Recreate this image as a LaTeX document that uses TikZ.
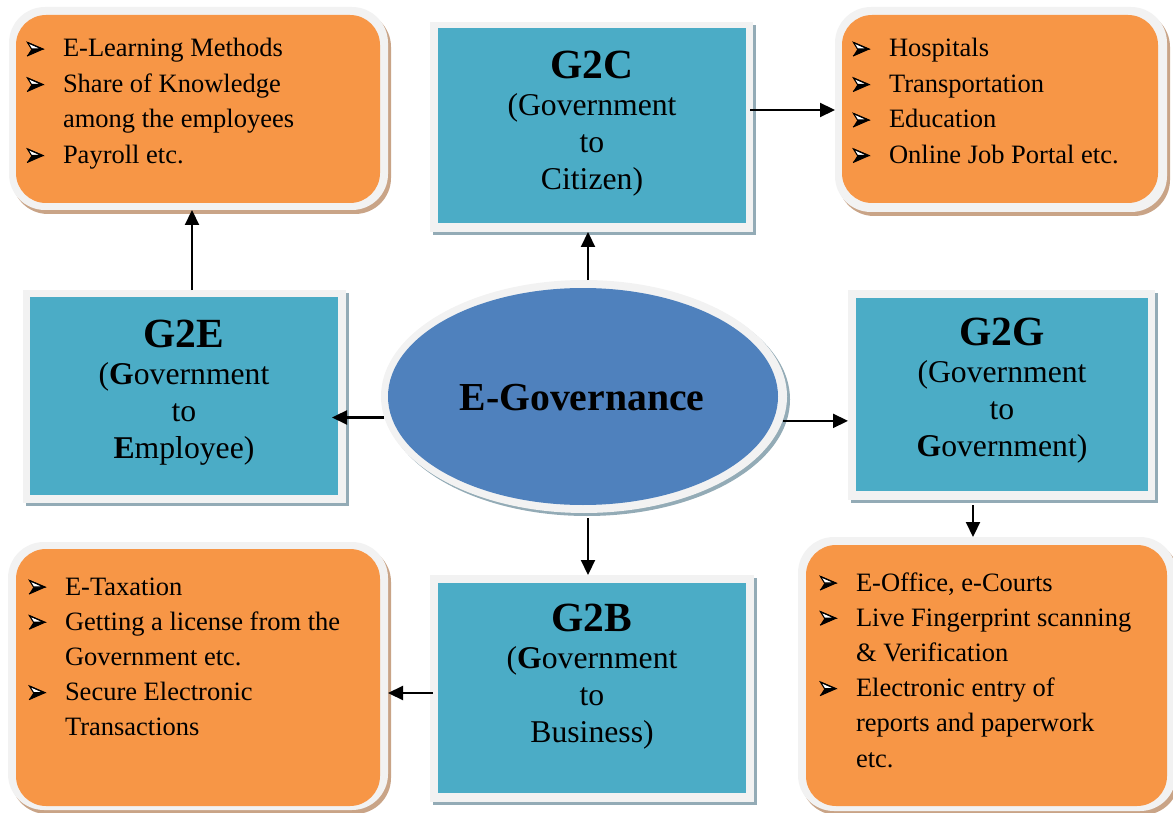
\documentclass[tikz,border=0pt]{standalone}
\usepackage{fontspec}
\setmainfont{Liberation Serif}
\usetikzlibrary{arrows.meta,shapes.geometric,calc,shadows}

\definecolor{orangefill}{HTML}{F79646}
\definecolor{cyanfill}{HTML}{4BACC6}
\definecolor{bluefill}{HTML}{4F81BD}
\definecolor{framefill}{HTML}{F2F2F2}
\definecolor{orangeshadow}{HTML}{C9A487}
\definecolor{cyanshadow}{HTML}{93ABB6}

\newcommand\headfont{\fontsize{41.5}{37}\selectfont\bfseries}

\tikzset{
  cyanframe/.style={rectangle, fill=framefill, inner sep=0, outer sep=0,
    drop shadow={shadow xshift=3pt, shadow yshift=-3pt, fill=cyanshadow, opacity=1}},
  cyanbox/.style={rectangle, fill=cyanfill, inner sep=0, outer sep=0},
  orangeframe/.style={rectangle, rounded corners=36pt, fill=framefill, inner sep=0, outer sep=0,
    drop shadow={shadow xshift=3pt, shadow yshift=-4pt, fill=orangeshadow, opacity=1}},
  orangebox/.style={rectangle, rounded corners=30pt, fill=orangefill, inner sep=0, outer sep=0},
  boxtext/.style={align=center, inner sep=0, font=\fontsize{31.7}{37}\selectfont},
  listtext/.style={anchor=base west, inner sep=0, outer sep=0},
  arr/.style={draw=black, line width=2.2pt, -{Triangle[length=15pt,width=14pt]}},
  % three-D arrowhead bullet sitting on the baseline: light upper facet, dark lower facet
  bullet/.pic={
    \fill[black] (0,-1) -- (16,-8) -- (4.5,-8) -- cycle;
    \filldraw[fill=white, draw=black, line width=1.1pt, line join=miter]
      (0.5,-14.5) -- (15,-8) -- (4.5,-8) -- cycle;
    \draw[black, line width=1.1pt, line join=miter] (0,-1) -- (16,-8) -- (0.5,-14.5);
  },
}

\begin{document}
\begin{tikzpicture}[x=1pt, y=-1pt]
\useasboundingbox (0,0) rectangle (1173,813);

% ---- bulleted panels ----
\node[orangeframe, minimum width=379, minimum height=203] (tlF) at (198.5,108.5) {};
\node[orangebox, minimum width=364, minimum height=188] (tlI) at (198,109) {};
\node[orangeframe, minimum width=332, minimum height=205] (trF) at (1001,109.5) {};
\node[orangebox, minimum width=316, minimum height=188] (trI) at (1000,109) {};
\node[orangeframe, minimum width=380, minimum height=268] (blF) at (198,676) {};
\node[orangebox, minimum width=364, minimum height=257] (blI) at (198,677.5) {};
\node[orangeframe, minimum width=378, minimum height=274] (brF) at (987,674) {};
\node[orangebox, minimum width=361, minimum height=261] (brI) at (986.5,675.5) {};

% ---- category boxes ----
\node[cyanframe, minimum width=323, minimum height=210] (g2cF) at (591.5,127) {};
\node[cyanbox, minimum width=308, minimum height=195] (g2cI) at (592,125.5) {};
\node[cyanframe, minimum width=323, minimum height=213] (g2eF) at (184.5,396.5) {};
\node[cyanbox, minimum width=308, minimum height=198] (g2eI) at (184,396) {};
\node[cyanframe, minimum width=307, minimum height=210] (g2gF) at (1001.5,395) {};
\node[cyanbox, minimum width=292, minimum height=193] (g2gI) at (1002,394.5) {};
\node[cyanframe, minimum width=324, minimum height=227] (g2bF) at (592,688.5) {};
\node[cyanbox, minimum width=308, minimum height=210] (g2bI) at (592,688) {};

% ---- central ellipse ----
\node[ellipse, fill=framefill, inner sep=0, outer sep=0,
      minimum width=406, minimum height=233,
      drop shadow={shadow xshift=3pt, shadow yshift=-3pt, fill=cyanshadow, opacity=1}]
      (ellF) at (584,396.5) {};
\node[ellipse, fill=bluefill, inner sep=0, outer sep=0,
      minimum width=390, minimum height=217] (ellI) at (583,396.5) {};
\node[inner sep=0, font=\fontsize{39.7}{44}\selectfont\bfseries] (ellT) at (582,398) {E-Governance};

% ---- box labels ----
\node[boxtext] (g2cT) at (592,124) {{\headfont G2C}\\(Government\\to\\Citizen)};
\node[boxtext] (g2eT) at (184,393) {{\headfont G2E}\\(\textbf{G}overnment\\to\\\textbf{E}mployee)};
\node[boxtext] (g2gT) at (1002,391) {{\headfont G2G}\\(Government\\to\\\textbf{G}overnment)};
\node[boxtext] (g2bT) at (592,677) {{\headfont G2B}\\(\textbf{G}overnment\\to\\Business)};

% ---- bulleted lists ----
\node[listtext] (tlT) at (63,57) {\parbox[t]{320pt}{\fontsize{26.5}{35.5}\selectfont\raggedright
  E-Learning Methods\\ Share of Knowledge\\ among the employees\\ Payroll etc.}};
\foreach \yb in {57,92.5,163.5} \pic at (27,\yb) {bullet};

\node[listtext] (trT) at (889,57) {\parbox[t]{280pt}{\fontsize{26.5}{35.5}\selectfont\raggedright
  Hospitals\\ Transportation\\ Education\\ Online Job Portal etc.}};
\foreach \yb in {57,92.5,128,163.5} \pic at (853,\yb) {bullet};

\node[listtext] (blT) at (65,595) {\parbox[t]{320pt}{\fontsize{26.5}{35.2}\selectfont\raggedright
  E-Taxation\\ Getting a license from the\\ Government etc.\\ Secure Electronic\\ Transactions}};
\foreach \yb in {595,630.2,700.6} \pic at (29,\yb) {bullet};

\node[listtext] (brT) at (856,591) {\parbox[t]{320pt}{\fontsize{26.5}{35.2}\selectfont\raggedright
  E-Office, e-Courts\\ Live Fingerprint scanning\\ \& Verification\\ Electronic entry of\\
  reports and paperwork\\ etc.}};
\foreach \yb in {591,626.2,696.6} \pic at (820,\yb) {bullet};

% ---- connectors ----
\draw[arr] ([xshift=7.5pt]g2eF.north) -- ([xshift=7.5pt]g2eF.north |- tlF.south);
\draw[arr] ([xshift=4pt]ellF.north) -- ([xshift=4pt]ellF.north |- g2cF.south);
\draw[arr] ([xshift=-3pt,yshift=17pt]g2cF.east) -- ([yshift=17pt]g2cF.east -| trF.west);
\draw[arr] (ellF.186.45) -- ($(ellF.186.45 -| g2eI.east)+(-6,0)$);
\draw[arr] (ellF.353.55) -- (ellF.353.55 -| g2gF.west);
\draw[arr] ([xshift=-28.5pt,yshift=-5pt]g2gF.south) -- ([xshift=-28.5pt]g2gF.south |- brF.north);
\draw[arr] ([xshift=4pt,yshift=-5pt]ellF.south) -- ([xshift=4pt]ellF.south |- g2bF.north);
\draw[arr] ([xshift=3pt,yshift=-4.5pt]g2bF.west) -- ([yshift=-4.5pt]g2bF.west -| blF.east);
\end{tikzpicture}
\end{document}
